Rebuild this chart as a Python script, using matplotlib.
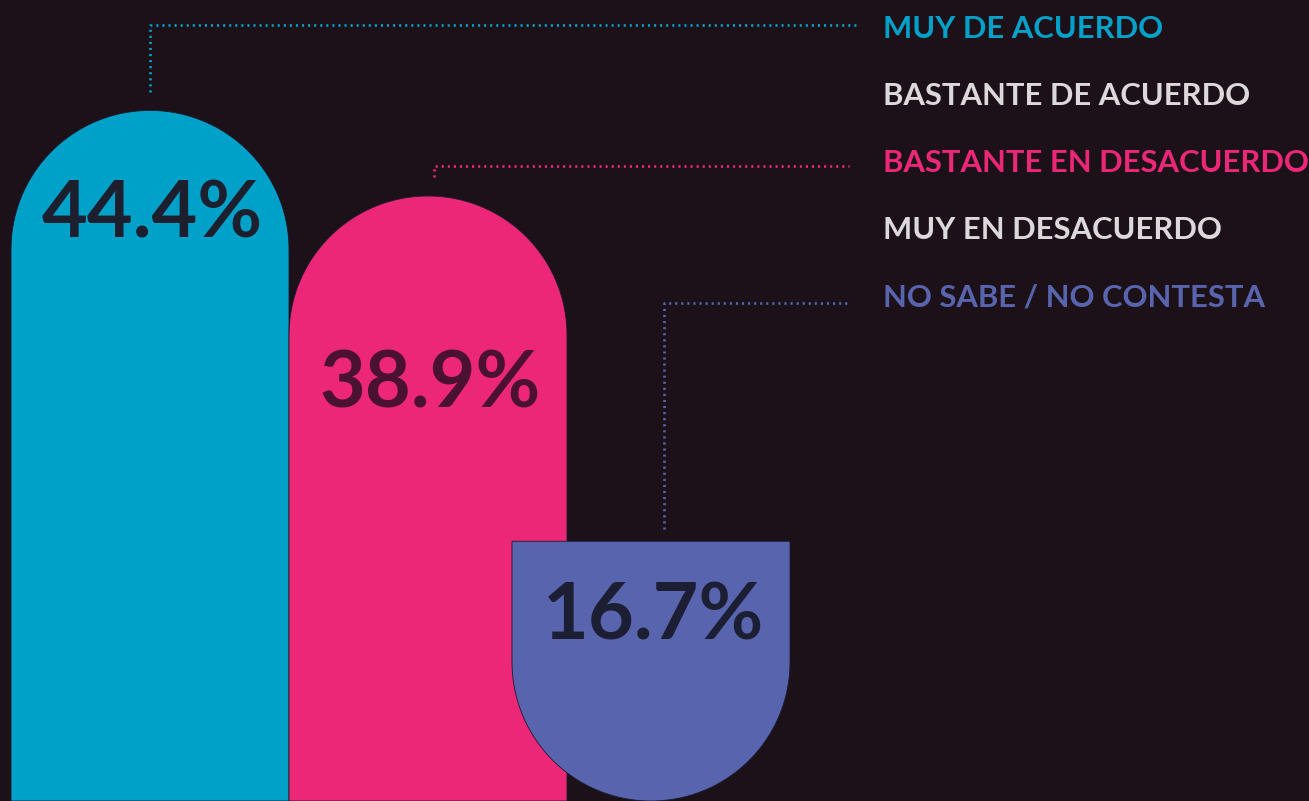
import numpy as np
import matplotlib
matplotlib.use("Agg")
import matplotlib.pyplot as plt
from matplotlib.patches import Polygon

# Datos
respuestas = ['MUY DE ACUERDO', 'BASTANTE DE ACUERDO', 'BASTANTE EN DESACUERDO',
              'MUY EN DESACUERDO', 'NO SABE / NO CONTESTA']
colores_leyenda = ['#00a1c9', '#dcd8dc', '#ec2778', '#dcd8dc', '#5865ae']

barras = ['MUY DE ACUERDO', 'BASTANTE EN DESACUERDO', 'NO SABE / NO CONTESTA']
valores = [44.4, 38.9, 16.7]
colores = ['#00a1c9', '#ec2778', '#5865ae']
colores_texto = ['#1b1f2e', '#4a1130', '#1c1f33']
hacia_abajo = [False, False, True]  # la última barra tiene el extremo redondeado abajo

# Layout (pixeles)
W, H = 1309, 801
fondo = '#1c1119'
centros = [150, 428, 651]
semi_ancho = 139
y_max = 51.5
px = H / y_max  # pixeles por punto porcentual

fig = plt.figure(figsize=(W / 100, H / 100), dpi=100)
fig.patch.set_facecolor(fondo)
ax = fig.add_axes([0, 0, 1, 1])
ax.set_facecolor(fondo)
ax.set_xlim(0, W)
ax.set_ylim(0, y_max)
ax.axis('off')


def y_px(p):
    """Convierte una altura en pixeles (desde arriba) a unidades de datos."""
    return (H - p) / px


r = semi_ancho / px  # radio vertical en unidades de datos
t = np.linspace(0, np.pi, 80)
desfase_etiqueta = [8.2, 13.6, 6.3]
for i, v in enumerate(valores):
    c = centros[i]
    if not hacia_abajo[i]:
        arco = np.column_stack([c + semi_ancho * np.cos(t), (v - r) + r * np.sin(t)])
        pts = np.vstack([[c + semi_ancho, 0], arco, [c - semi_ancho, 0]])
    else:
        arco = np.column_stack([c - semi_ancho * np.cos(t), r - r * np.sin(t)])
        pts = np.vstack([[c - semi_ancho, v], arco, [c + semi_ancho, v]])
    ax.add_patch(Polygon(pts, closed=True, facecolor=colores[i],
                         edgecolor='#1c1a2e', lw=0.6, zorder=2 + i))
    ax.text(c + 2, v - desfase_etiqueta[i], f'{v}%', ha='center', va='baseline',
            fontsize=57, fontweight='bold', family=['Lato', 'DejaVu Sans'],
            color=colores_texto[i], zorder=10)

# Leyenda
filas = [38, 105, 172, 239, 307]
for i, txt in enumerate(respuestas):
    ax.text(883, y_px(filas[i]), txt, ha='left', va='baseline', fontsize=22.3,
            fontweight='bold', family=['Lato', 'DejaVu Sans'],
            color=colores_leyenda[i])

# Líneas guía punteadas
guia_x = [150, 434, 664]
guia_fila = [25, 166, 303]
guia_fin = [859, 849, 849]
for i, v in enumerate(valores):
    y0 = v + 1.2 if not hacia_abajo[i] else v + 0.8
    yf = y_px(guia_fila[i])
    ax.plot([guia_x[i], guia_x[i], guia_fin[i]], [y0, yf, yf],
            color=colores[i], lw=1.9, linestyle=(0, (0.8, 1.5)),
            dash_capstyle='butt', zorder=1)

fig.savefig('out.png', dpi=100, facecolor=fondo)
